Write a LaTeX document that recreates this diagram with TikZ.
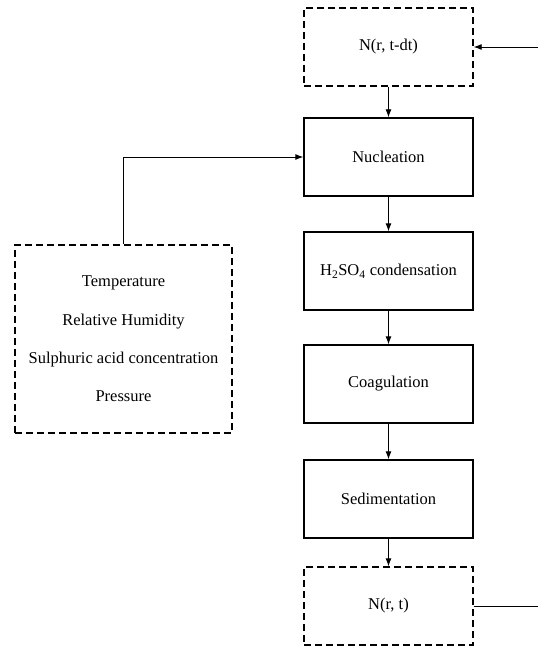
\documentclass[tikz,border=0pt]{standalone}
\usepackage{fontspec}
\setmainfont{Liberation Serif}
\usetikzlibrary{arrows.meta,calc}
\tikzset{
  procbox/.style={draw, line width=1.4pt, minimum width=169pt, minimum height=78pt, inner sep=0pt, font=\fontsize{16.5}{19}\selectfont},
  dashbox/.style={procbox, dash pattern=on 7pt off 4pt},
  flow/.style={line width=0.9pt, -{Latex[length=8pt,width=6pt]}},
  plain/.style={line width=0.9pt}
}
\begin{document}
\begin{tikzpicture}[x=1pt,y=-1pt]
\useasboundingbox (0,0) rectangle (538,650);
\node[dashbox] (prev) at (388.5,47) {N(r, t-dt)};
\node[procbox] (nuc) at (388.5,157) {Nucleation};
\node[procbox] (cond) at (388.5,271) {H\textsubscript{2}SO\textsubscript{4} condensation};
\node[procbox] (coag) at (388.5,384) {Coagulation};
\node[procbox] (sed) at (388.5,499) {Sedimentation};
\node[dashbox] (next) at (388.5,606) {N(r, t)};
\node[dashbox, minimum width=217pt, minimum height=188pt, align=center, font=\fontsize{16.5}{38.3}\selectfont] (env) at (123.5,339) {Temperature\\Relative Humidity\\Sulphuric acid concentration\\Pressure};
\coordinate (inR) at (538,47);
\coordinate (outR) at (538,606);
\draw[flow] (inR) -- (prev.east);
\draw[flow] (prev) -- (nuc);
\draw[flow] (nuc) -- (cond);
\draw[flow] (cond) -- (coag);
\draw[flow] (coag) -- (sed);
\draw[flow] (sed) -- (next);
\draw[plain] (next.east) -- (outR);
\draw[flow] (env.north) |- (nuc.west);
\end{tikzpicture}
\end{document}
